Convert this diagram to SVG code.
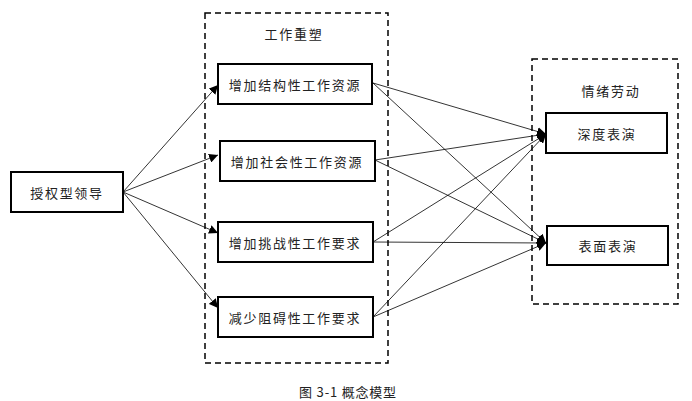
<svg xmlns="http://www.w3.org/2000/svg" width="692" height="401" viewBox="0 0 692 401">
<style>
.box{fill:#fff;stroke:#000;stroke-width:2}
.grp{fill:none;stroke:#000;stroke-width:1.5;stroke-dasharray:6,4}
.t{font-family:"Noto Sans CJK SC","Noto Sans",sans-serif;font-size:13px;fill:#222;letter-spacing:1.7px;text-anchor:middle;dominant-baseline:central}
.c{fill:none;stroke:#000;stroke-width:0.8;marker-end:url(#ah)}
</style>
<defs>
<marker id="ah" viewBox="0 0 10 10" refX="10" refY="5" markerWidth="9" markerHeight="9" markerUnits="userSpaceOnUse" orient="auto">
<path d="M0,0 L10,5 L0,10 z" fill="#000"/>
</marker>
</defs>
<rect width="692" height="401" fill="#fff"/>
<g id="group-reshaping">
<rect class="grp" x="205" y="13" width="183" height="350"/>
<text class="t" x="294" y="33">工作重塑</text>
</g>
<g id="group-emotional">
<rect class="grp" x="532" y="59" width="146" height="245"/>
<text class="t" x="611" y="90">情绪劳动</text>
</g>
<g id="connectors">
<line class="c" x1="123" y1="192" x2="218" y2="85"/>
<line class="c" x1="123" y1="192" x2="218" y2="155"/>
<line class="c" x1="123" y1="192" x2="218" y2="233"/>
<line class="c" x1="123" y1="192" x2="218" y2="308"/>
<line class="c" x1="373" y1="83" x2="546" y2="134"/>
<line class="c" x1="373" y1="83" x2="546" y2="243"/>
<line class="c" x1="375" y1="160" x2="546" y2="134"/>
<line class="c" x1="375" y1="160" x2="546" y2="243"/>
<line class="c" x1="373" y1="242" x2="546" y2="134"/>
<line class="c" x1="373" y1="242" x2="546" y2="243"/>
<line class="c" x1="373" y1="317" x2="546" y2="134"/>
<line class="c" x1="373" y1="317" x2="546" y2="243"/>
</g>
<g id="node-leader">
<rect class="box" x="11" y="172" width="112" height="40"/>
<text class="t" x="67" y="192">授权型领导</text>
</g>
<g id="node-structural">
<rect class="box" x="218" y="64" width="154" height="40"/>
<text class="t" x="295" y="84">增加结构性工作资源</text>
</g>
<g id="node-social">
<rect class="box" x="220" y="141" width="155" height="40"/>
<text class="t" x="297" y="161">增加社会性工作资源</text>
</g>
<g id="node-challenge">
<rect class="box" x="218" y="222" width="155" height="40"/>
<text class="t" x="295" y="242">增加挑战性工作要求</text>
</g>
<g id="node-hindrance">
<rect class="box" x="218" y="297" width="155" height="40"/>
<text class="t" x="295" y="317">减少阻碍性工作要求</text>
</g>
<g id="node-deep">
<rect class="box" x="546" y="113" width="121" height="40"/>
<text class="t" x="607" y="133">深度表演</text>
</g>
<g id="node-surface">
<rect class="box" x="547" y="226" width="121" height="39"/>
<text class="t" x="608" y="245">表面表演</text>
</g>
<text class="t" x="348" y="391" style="letter-spacing:0.8px">图 3-1 概念模型</text>
</svg>
